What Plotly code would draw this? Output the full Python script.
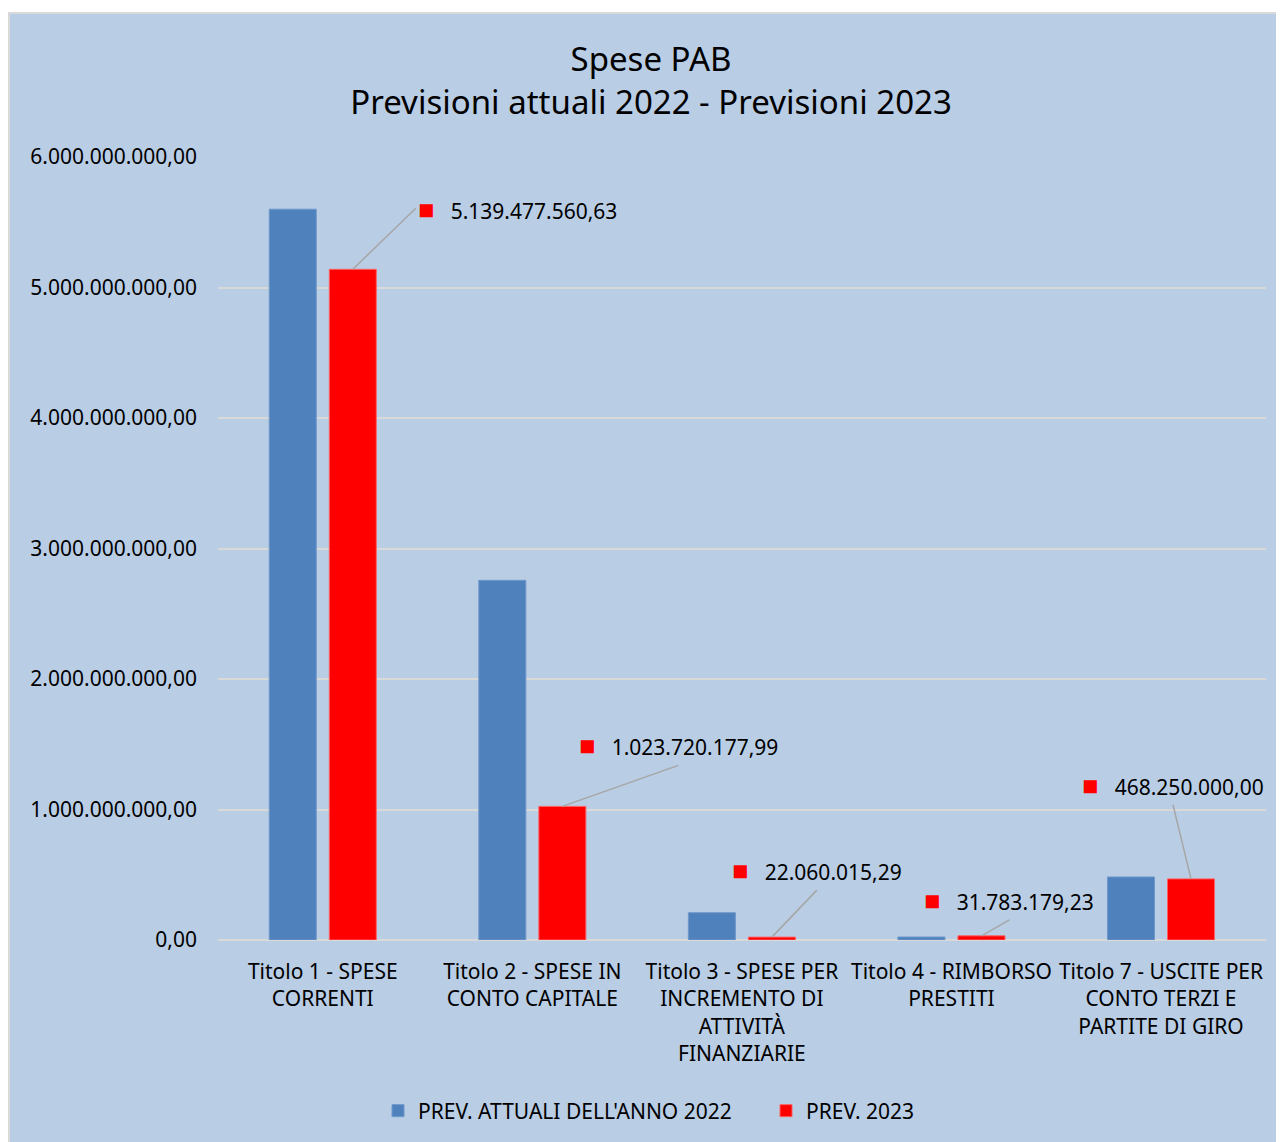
import plotly.graph_objects as go

categories = [
    "Titolo 1 - SPESE<br>CORRENTI",
    "Titolo 2 - SPESE IN<br>CONTO CAPITALE",
    "Titolo 3 - SPESE PER<br>INCREMENTO DI<br>ATTIVITÀ<br>FINANZIARIE",
    "Titolo 4 - RIMBORSO<br>PRESTITI",
    "Titolo 7 - USCITE PER<br>CONTO TERZI E<br>PARTITE DI GIRO",
]
prev_2022 = [5.60e9, 2.756e9, 0.209e9, 0.023e9, 0.483e9]
prev_2023 = [5139477560.63, 1023720177.99, 22060015.29, 31783179.23, 468250000.00]
series_names = ["PREV. ATTUALI DELL'ANNO 2022", "PREV. 2023"]
y_ticks = [0, 1e9, 2e9, 3e9, 4e9, 5e9, 6e9]

# label anchor offsets (pixels) from the top of each red bar
label_dx = [63, 116, 45, 28, -18]
label_dy = [-61, -41, -47, -16, -74]
label_xanchor = ["left", "center", "center", "center", "center"]
label_yanchor = ["middle", "bottom", "bottom", "bottom", "bottom"]

FONT = "Noto Sans"
BG = "#B9CDE5"


def fmt_it(v):
    s = f"{v:,.2f}"
    return s.replace(",", "X").replace(".", ",").replace("X", ".")


fig = go.Figure()
fig.add_trace(go.Bar(x=categories, y=prev_2022, name=series_names[0],
                     marker=dict(color="#4F81BD", line=dict(color="#6F97C9", width=1))))
fig.add_trace(go.Bar(x=categories, y=prev_2023, name=series_names[1],
                     marker=dict(color="#FF0000", line=dict(color="#FF6060", width=1))))

OFF = 8  # page body margin
W, H = 1284 - OFF, 1142 - OFF
L, R, T, B = 218 - OFF, 18, 157 - OFF, 202
pw, ph = W - L - R, H - T - B

# chart-area background rectangle
fig.add_shape(type="rect", xref="paper", yref="paper",
              x0=(1 - L) / pw, x1=(W + 10 - L) / pw,
              y0=(H - B - (H + 10)) / ph, y1=(H - B - 5) / ph,
              fillcolor=BG, line=dict(color="#D9D9D9", width=2), layer="below")

for i, (c, v) in enumerate(zip(categories, prev_2023)):
    fig.add_annotation(
        x=c, y=v, xref="x", yref="y", xshift=30,
        text=(f"<span style='color:#FF0000;font-size:27px'>■</span>"
              f"   {fmt_it(v)}"),
        showarrow=True, arrowhead=0, arrowwidth=1.5, arrowcolor="#A6A6A6",
        ax=label_dx[i], ay=label_dy[i], standoff=0,
        xanchor=label_xanchor[i], yanchor=label_yanchor[i],
        font=dict(family=FONT, size=21, color="#000000"),
    )

fig.update_layout(
    width=W, height=H,
    margin=dict(l=L, r=R, t=T, b=B, pad=0),
    paper_bgcolor="white",
    plot_bgcolor="rgba(0,0,0,0)",
    separators=",.",
    font=dict(family=FONT, size=21, color="#000000"),
    title=dict(text="Spese PAB<br>Previsioni attuali 2022 - Previsioni 2023",
               xref="container", x=(651 - OFF) / W, xanchor="center",
               yref="container", y=1 - (71 - OFF) / H, yanchor="middle",
               font=dict(family=FONT, size=33, color="#000000")),
    barmode="group", bargap=0.427, bargroupgap=0.217,
    legend=dict(orientation="h", xref="container", yref="container",
                x=(766 - OFF) / W, xanchor="center", y=1 - (1111 - OFF) / H,
                yanchor="middle",
                font=dict(family=FONT, size=21), bgcolor="rgba(0,0,0,0)",
                itemwidth=30, entrywidth=343, entrywidthmode="pixels"),
    yaxis=dict(range=[0, 6e9], tickvals=y_ticks, tickformat=",.2f",
               gridcolor="#D9D9D9", gridwidth=2, zeroline=True,
               zerolinecolor="#D9D9D9", zerolinewidth=2, showline=False,
               ticks="", ticklabelstandoff=20, tickfont=dict(size=21)),
    xaxis=dict(showline=False, ticks="", tickfont=dict(size=21),
               ticklabelstandoff=17),
)

fig.write_html("out.html")
